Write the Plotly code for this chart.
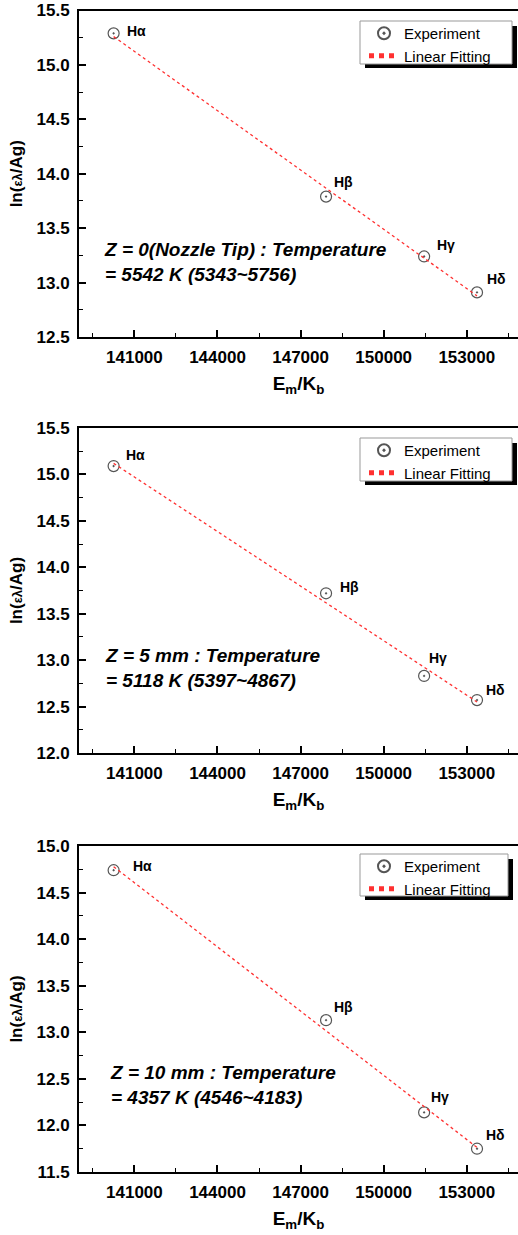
import numpy as np
import plotly.graph_objects as go

# ---------------- data ----------------
line_names = ["Hα", "Hβ", "Hγ", "Hδ"]
energy = [140250, 147920, 151460, 153370]          # E_m / K_b
ln_z0 = [15.29, 13.79, 13.24, 12.91]
ln_z5 = [15.09, 13.72, 12.83, 12.57]
ln_z10 = [14.74, 13.13, 12.14, 11.75]
series = [ln_z0, ln_z5, ln_z10]
notes = [
    "Z = 0(Nozzle Tip) : Temperature<br>= 5542 K (5343~5756)",
    "Z = 5 mm : Temperature<br>= 5118 K (5397~4867)",
    "Z = 10 mm : Temperature<br>= 4357 K (4546~4183)",
]
y_ranges = [[12.5, 15.5], [12.0, 15.5], [11.5, 15.0]]
x_range = [139000, 154850]
x_ticks = [141000, 144000, 147000, 150000, 153000]

# ---------------- layout helpers ----------------
W, H = 518, 1235
ML = 79
PW = W - ML
boxes = [(10.5, 337), (428, 753), (846, 1172)]
label_off = [
    [(11, 2), (6, 15), (11, 11), (8, 13)],
    [(10, 11), (12, 6), (3, 18), (7, 10)],
    [(17, 4), (6, 13), (5, 15), (7, 14)],
]
note_pos = [(0.0524, 0.2297), (0.0547, 0.2615), (0.066, 0.268)]
# legend box: left, top, right, bottom (px)
legend_box = [(360, 21, 512, 64), (360, 438, 512, 481), (360, 854, 508, 896)]

FONT = "Liberation Sans, Arial, sans-serif"
RED = "#ff3030"
GREY = "#555555"

fig = go.Figure()
layout = dict(
    width=W, height=H,
    margin=dict(l=ML, r=0, t=0, b=0, autoexpand=False),
    paper_bgcolor="white", plot_bgcolor="white",
    font=dict(family=FONT, color="black"),
    showlegend=True,
)
annotations = []
shapes = []

def py(px):
    return 1 - px / H

def pxx(px):
    return (px - ML) / PW

for i, ys in enumerate(series):
    n = "" if i == 0 else str(i + 1)
    xa, ya = "x" + n, "y" + n
    lg = "legend" + n
    top, bot = boxes[i]
    fig.add_trace(go.Scatter(
        x=energy, y=ys, mode="markers", name="Experiment",
        xaxis=xa, yaxis=ya, legend=lg,
        marker=dict(symbol="circle-open-dot", size=11, color=GREY,
                    line=dict(width=1.2, color=GREY)),
    ))
    k, b = np.polyfit(energy, ys, 1)
    fx = [energy[0], energy[-1]]
    fy = [k * v + b for v in fx]
    fig.add_trace(go.Scatter(
        x=fx, y=fy, mode="lines", name="Linear Fitting",
        xaxis=xa, yaxis=ya, legend=lg,
        line=dict(color=RED, width=1.3, dash="dot"),
    ))
    layout["xaxis" + n] = dict(
        domain=[0, 1], anchor=ya, range=x_range, automargin=False,
        tickmode="array", tickvals=x_ticks, ticktext=[str(t) for t in x_ticks],
        ticks="inside", ticklen=7, tickwidth=1.5, tickcolor="black",
        minor=dict(ticks="inside", ticklen=4, tickwidth=1.2, tickcolor="black",
                   tickmode="linear", tick0=139500, dtick=3000),
        showline=True, linewidth=1.8, linecolor="black", mirror=True,
        showgrid=False, zeroline=False,
        tickfont=dict(size=17, family=FONT, weight="bold"),
        ticklabelstandoff=4,
        title=dict(text="E<sub>m</sub>/K<sub>b</sub>", standoff=10,
                   font=dict(size=19, family=FONT, weight="bold")),
    )
    layout["yaxis" + n] = dict(
        domain=[py(bot), py(top)], anchor=xa, range=y_ranges[i], automargin=False,
        dtick=0.5, tick0=0, tickformat=".1f",
        ticks="inside", ticklen=7, tickwidth=1.5, tickcolor="black",
        minor=dict(ticks="inside", ticklen=4, tickwidth=1.2, tickcolor="black", dtick=0.25),
        showline=True, linewidth=1.8, linecolor="black", mirror=False,
        showgrid=False, zeroline=False,
        tickfont=dict(size=17, family=FONT, weight="bold"),
        ticklabelstandoff=4,
        title=dict(text="ln(<span style='font-size:13px'>ελ</span>/Ag)", standoff=10,
                   font=dict(size=17, family=FONT, weight="bold")),
    )
    l, t, r, btm = legend_box[i]
    layout[lg] = dict(
        x=pxx(l + 4), y=py(t - 4), xanchor="left", yanchor="top",
        bgcolor="rgba(0,0,0,0)", borderwidth=0,
        font=dict(size=15, family=FONT),
        tracegroupgap=0, itemsizing="constant",
    )
    # legend drop shadow and frame
    shapes.append(dict(
        type="rect", xref="paper", yref="paper",
        x0=pxx(l + 5), x1=pxx(r + 5), y0=py(btm + 4), y1=py(t + 5),
        fillcolor="black", line=dict(width=0), layer="above",
    ))
    shapes.append(dict(
        type="rect", xref="paper", yref="paper",
        x0=pxx(l), x1=pxx(r), y0=py(btm), y1=py(t),
        fillcolor="white", line=dict(width=1, color="#999999"), layer="above",
    ))
    for j, name in enumerate(line_names):
        dx, dy = label_off[i][j]
        annotations.append(dict(
            x=energy[j], y=ys[j], xref=xa, yref=ya, text=name,
            showarrow=False, xanchor="left", yanchor="middle",
            xshift=dx, yshift=dy,
            font=dict(size=14, family=FONT, weight="bold"),
        ))
    nx, ny = note_pos[i]
    annotations.append(dict(
        x=nx, y=ny, xref=xa + " domain", yref=ya + " domain",
        text=notes[i], showarrow=False, xanchor="left", yanchor="middle", align="left",
        font=dict(size=19, family=FONT, weight="bold", style="italic"),
    ))

layout["annotations"] = annotations
layout["shapes"] = shapes
fig.update_layout(**layout)
fig.write_html("out.html", config={"displayModeBar": False},
               post_script="document.body.style.margin='0';")
